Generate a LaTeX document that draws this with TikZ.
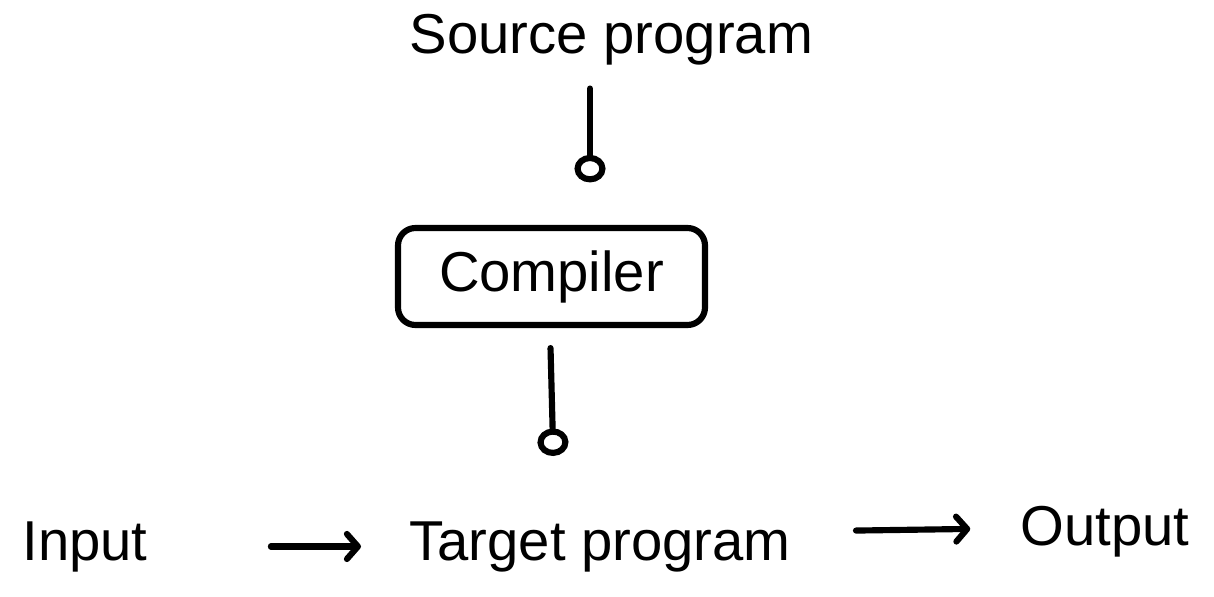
\documentclass[tikz,border=0pt]{standalone}
\usepackage{fontspec}
\setmainfont{Liberation Sans}
\usetikzlibrary{arrows.meta}

\tikzset{
  txt/.style={inner sep=0pt, font=\fontsize{32}{38}\selectfont},
  box/.style={draw, line width=3.5pt, rounded corners=0.35cm,
    minimum width=6.14cm, minimum height=1.94cm, inner sep=0pt,
    font=\fontsize{32}{38}\selectfont},
  feed/.style={line width=3.5pt, line cap=round,
    -{Circle[open, length=0.55cm, width=0.62cm]}},
  flow/.style={line width=3.5pt, line cap=round,
    -{Straight Barb[length=0.22cm, width=0.5cm, round]}}
}

\begin{document}
\begin{tikzpicture}
  \useasboundingbox (0,0) rectangle (24.28,11.92);

  \node[txt, anchor=base] (src) at (12.23,10.84) {Source program};
  \node[box] (cmp) at (11.03,6.39) {Compiler};
  \node[txt, anchor=base] (in) at (1.7,0.72) {Input};
  \node[txt, anchor=base] (tgt) at (12.0,0.72) {Target program};
  \node[txt, anchor=base] (out) at (22.1,1.02) {Output};

  % compiler in and out
  \draw[feed, shorten <=0.45cm, shorten >=0.85cm]
    ([xshift=-0.43cm]src.south) -- ([xshift=0.77cm]cmp.north);
  \draw[feed, shorten <=0.4cm, shorten >=1.3cm]
    ([xshift=-0.03cm]cmp.south) -- ([xshift=-0.9cm]tgt.north);

  % running the target program
  \draw[flow, shorten <=2.46cm, shorten >=0.96cm] (in.east) -- (tgt.west);
  \draw[flow, shorten <=1.3cm, shorten >=1.0cm]
    ([yshift=0.3cm]tgt.east) -- ([yshift=0.06cm]out.west);
\end{tikzpicture}
\end{document}
